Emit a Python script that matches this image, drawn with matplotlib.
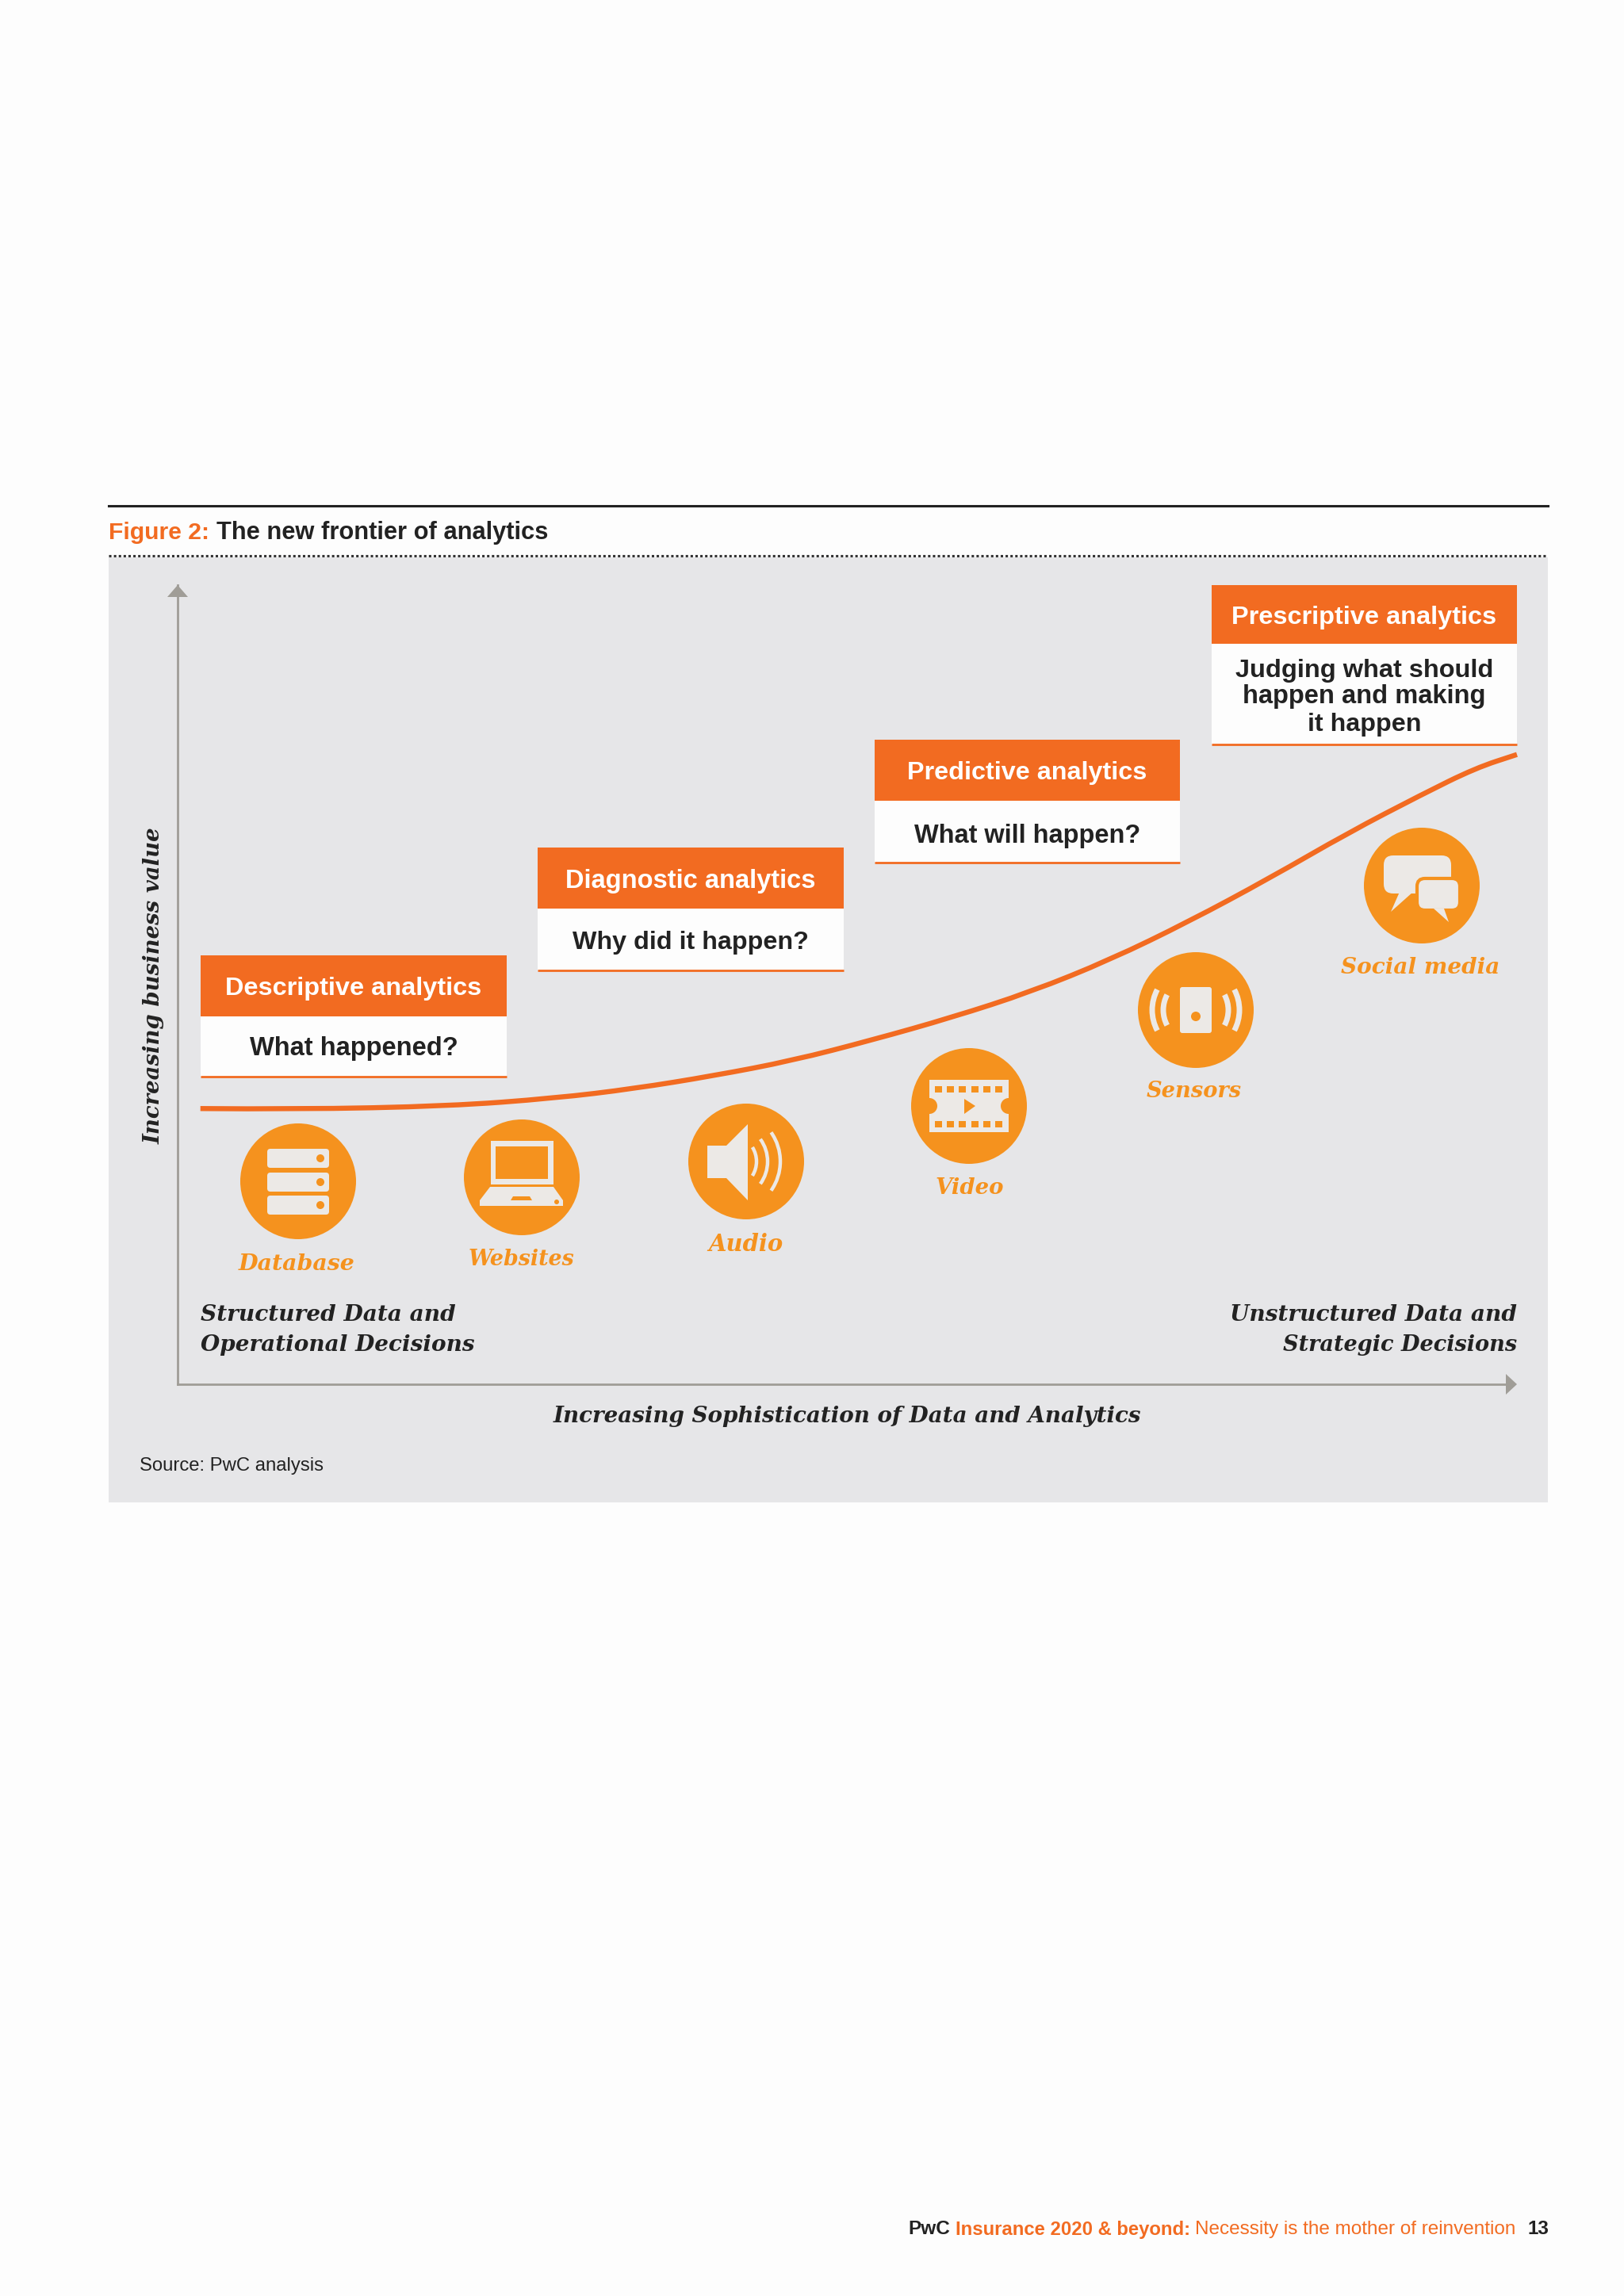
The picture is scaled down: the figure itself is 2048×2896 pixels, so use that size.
import matplotlib
matplotlib.use("Agg")
import matplotlib.pyplot as plt
from matplotlib.patches import Rectangle, Circle, Polygon, FancyBboxPatch, Arc, PathPatch
from matplotlib.path import Path

# ---- data -------------------------------------------------------------
curve_x = [1.7, 8.9, 20.2, 28.2, 34.1, 40.0, 45.9, 51.9, 57.8, 63.7, 69.6, 75.5, 81.5, 87.4, 92.9, 96.9, 100.0]
curve_y = [34.5, 34.4, 34.8, 35.8, 37.0, 38.6, 40.5, 43.1, 45.9, 49.1, 53.1, 57.9, 63.3, 69.0, 73.8, 77.1, 78.8]
stage_titles = ["Descriptive analytics", "Diagnostic analytics", "Predictive analytics", "Prescriptive analytics"]
stage_questions = [["What happened?"], ["Why did it happen?"], ["What will happen?"],
                   ["Judging what should", "happen and making", "it happen"]]
source_names = ["Database", "Websites", "Audio", "Video", "Sensors", "Social media"]

ORANGE = "#F26B21"; AMBER = "#F5921E"; PANEL = "#E6E6E8"; GREY = "#A09D97"
INK = "#222222"; ICON = "#ECE9E6"
W, H = 2048, 2896
SANS = ["Liberation Sans", "DejaVu Sans"]
SERIF = ["DejaVu Serif"]

fig = plt.figure(figsize=(W/100, H/100), dpi=100, facecolor="#FDFDFD")
ax = fig.add_axes([0, 0, 1, 1]); ax.set_xlim(0, W); ax.set_ylim(H, 0); ax.axis("off")
renderer = fig.canvas.get_renderer()


def fit(x, y, s, target, color=INK, family=SANS, weight="bold", style="normal",
        ha="center", va="center", rotation=0, zorder=6):
    t = ax.text(x, y, s, color=color, family=family, weight=weight, style=style,
                ha=ha, va=va, rotation=rotation, fontsize=20, zorder=zorder)
    bb = t.get_window_extent(renderer)
    t.set_fontsize(20 * target / max(bb.width, bb.height))
    return t


def serif(x, y, s, target, color=INK, **kw):
    return fit(x, y, s, target, color=color, family=SERIF, style="italic", **kw)


# header
ax.plot([137, 1952], [638, 638], color="#222222", lw=2.2, zorder=2)
fit(137, 672, "Figure 2:", 127, color=ORANGE, ha="left")
fit(273, 672, "The new frontier of analytics", 418, ha="left")
ax.plot([137, 1952], [701, 701], color="#333333", lw=2.2, ls=(0, (1, 1)), zorder=2)

# panel
ax.add_patch(Rectangle((137, 703), 1815, 1192, fc=PANEL, ec="none", zorder=1))

# chart axes holding the curve
a2 = fig.add_axes([224/W, 1 - 1746/H, (1913-224)/W, 1008/H], facecolor="none", zorder=3)
a2.set_xlim(0, 100); a2.set_ylim(0, 100)
a2.set_xticks([]); a2.set_yticks([])
for s in ("top", "right"):
    a2.spines[s].set_visible(False)
for s in ("left", "bottom"):
    a2.spines[s].set_color(GREY); a2.spines[s].set_linewidth(2.0)
a2.spines["bottom"].set_bounds(0, 99.5)
verts = [(curve_x[0], curve_y[0])]
codes = [Path.MOVETO]
for i in range(1, len(curve_x) - 1):
    verts.append((curve_x[i], curve_y[i]))
    verts.append(((curve_x[i] + curve_x[i+1]) / 2, (curve_y[i] + curve_y[i+1]) / 2))
    codes += [Path.CURVE3, Path.CURVE3]
verts.append((curve_x[-1], curve_y[-1])); codes.append(Path.LINETO)
a2.add_patch(PathPatch(Path(verts, codes), fc="none", ec=ORANGE, lw=4.6, capstyle="butt",
                       clip_on=False))

# arrows
ax.add_patch(Polygon([(224, 738), (211, 753), (237, 753)], fc=GREY, ec="none", zorder=4))
ax.add_patch(Polygon([(1913, 1746), (1899, 1733), (1899, 1759)], fc=GREY, ec="none", zorder=4))

# stage boxes: x0, x1, header top, header bottom, body bottom
boxes = [(253, 639, 1205, 1282, 1358), (678, 1064, 1069, 1146, 1224),
         (1103, 1488, 933, 1010, 1088), (1528, 1913, 738, 812, 939)]
title_w = [322, 315, 302, 333]
q_w = [[262], [297], [285], [324, 306, 143]]
q_y = [[1323], [1189], [1054], [846, 879, 914]]
for i, (x0, x1, t0, t1, b1) in enumerate(boxes):
    cx = (x0 + x1) / 2
    ax.add_patch(Rectangle((x0, t1), x1-x0, b1-t1, fc="#FDFDFD", ec="none", zorder=4))
    ax.add_patch(Rectangle((x0, t0), x1-x0, t1-t0, fc=ORANGE, ec="none", zorder=5))
    ax.plot([x0, x1], [b1, b1], color=ORANGE, lw=2, zorder=5, solid_capstyle="butt")
    fit(cx, (t0 + t1) / 2 + 4, stage_titles[i], title_w[i], color="#FFFFFF")
    for s, w, y in zip(stage_questions[i], q_w[i], q_y[i]):
        fit(cx, y, s, w)

# icon discs and labels
disc = [(376, 1490), (658, 1485), (941, 1465), (1222, 1395), (1508, 1274), (1793, 1117)]
lab_pos = [(374, 1594), (658, 1589), (940, 1569), (1223, 1499), (1506, 1377), (1791, 1220)]
lab_w = [147, 134, 94, 86, 120, 200]
for (cx, cy), (lx, ly), s, w in zip(disc, lab_pos, source_names, lab_w):
    ax.add_patch(Circle((cx, cy), 73, fc=AMBER, ec="none", zorder=4))
    serif(lx, ly, s, w, color=AMBER)

Z = 7
def rrect(x0, y0, x1, y1, r, fc=ICON, ec="none", lw=0, z=Z):
    ax.add_patch(FancyBboxPatch((x0+r, y0+r), x1-x0-2*r, y1-y0-2*r, boxstyle=f"round,pad={r}",
                                fc=fc, ec=ec, lw=lw, zorder=z))

# database
for y0, y1 in [(1449, 1473), (1479, 1503), (1508, 1532)]:
    rrect(337, y0, 415, y1, 4)
    ax.add_patch(Circle((404, (y0+y1)/2), 5, fc=AMBER, ec="none", zorder=Z+1))
# laptop
ax.add_patch(Rectangle((619, 1439), 79, 55, fc=ICON, ec="none", zorder=Z))
ax.add_patch(Rectangle((625, 1446), 66, 41, fc=AMBER, ec="none", zorder=Z+1))
ax.add_patch(Polygon([(618, 1497), (698, 1497), (710, 1514), (710, 1521), (605, 1521), (605, 1514)],
                     fc=ICON, ec="none", zorder=Z))
ax.add_patch(Polygon([(647, 1509), (668, 1509), (671, 1514), (644, 1514)], fc=AMBER, ec="none", zorder=Z+1))
ax.add_patch(Circle((702, 1516), 3, fc=AMBER, ec="none", zorder=Z+1))
# audio
ax.add_patch(Polygon([(892, 1445), (916, 1445), (943, 1418), (943, 1514), (916, 1486), (892, 1486)],
                     fc=ICON, ec="none", zorder=Z))
for r, th in [(34, 32), (48, 36), (64, 35)]:
    ax.add_patch(Arc((920, 1465), 2*r, 2*r, theta1=-th, theta2=th, ec=ICON, lw=3.2, zorder=Z))
# video
ax.add_patch(Rectangle((1172, 1362), 100, 66, fc=ICON, ec="none", zorder=Z))
for nx in (1172, 1272):
    ax.add_patch(Circle((nx, 1395), 10, fc=AMBER, ec="none", zorder=Z+1))
for hx in (1179, 1194, 1209, 1225, 1240, 1255):
    for hy in (1370, 1414):
        ax.add_patch(Rectangle((hx, hy), 9, 8, fc=AMBER, ec="none", zorder=Z+1))
ax.add_patch(Polygon([(1216, 1386), (1230, 1395), (1216, 1405)], fc=AMBER, ec="none", zorder=Z+1))
# sensors
rrect(1488, 1245, 1528, 1303, 3)
ax.add_patch(Circle((1508, 1282), 6, fc=AMBER, ec="none", zorder=Z+1))
for r in (41, 55):
    ax.add_patch(Arc((1508, 1274), 2*r, 2*r, theta1=-28, theta2=28, ec=ICON, lw=5, zorder=Z))
    ax.add_patch(Arc((1508, 1274), 2*r, 2*r, theta1=152, theta2=208, ec=ICON, lw=5, zorder=Z))
# social media
rrect(1745, 1079, 1830, 1127, 12)
ax.add_patch(Polygon([(1765, 1125), (1754, 1150), (1782, 1125)], fc=ICON, ec="none", zorder=Z))
rrect(1787, 1108, 1841, 1148, 10, fc=ICON, ec=AMBER, lw=3, z=Z+1)
ax.add_patch(Polygon([(1808, 1146), (1827, 1163), (1821, 1146)], fc=ICON, ec="none", zorder=Z+1))

# italic captions
serif(253, 1659, "Structured Data and", 321, ha="left")
serif(253, 1696, "Operational Decisions", 345, ha="left")
serif(1913, 1659, "Unstructured Data and", 362, ha="right")
serif(1913, 1696, "Strategic Decisions", 295, ha="right")
serif(1068, 1786, "Increasing Sophistication of Data and Analytics", 740)
serif(194, 1243, "Increasing business value", 399, rotation=90)
fit(176, 1849, "Source: PwC analysis", 232, weight="normal", ha="left")

# footer
fit(1145, 2812, "PwC", 53, ha="left")
fit(1205, 2812, "Insurance 2020 & beyond:", 296, color=ORANGE, ha="left")
fit(1507, 2812, "Necessity is the mother of reinvention", 403, color=ORANGE, weight="normal", ha="left")
fit(1926, 2812, "13", 27, ha="left")

fig.savefig("out.png", dpi=100, facecolor=fig.get_facecolor())
